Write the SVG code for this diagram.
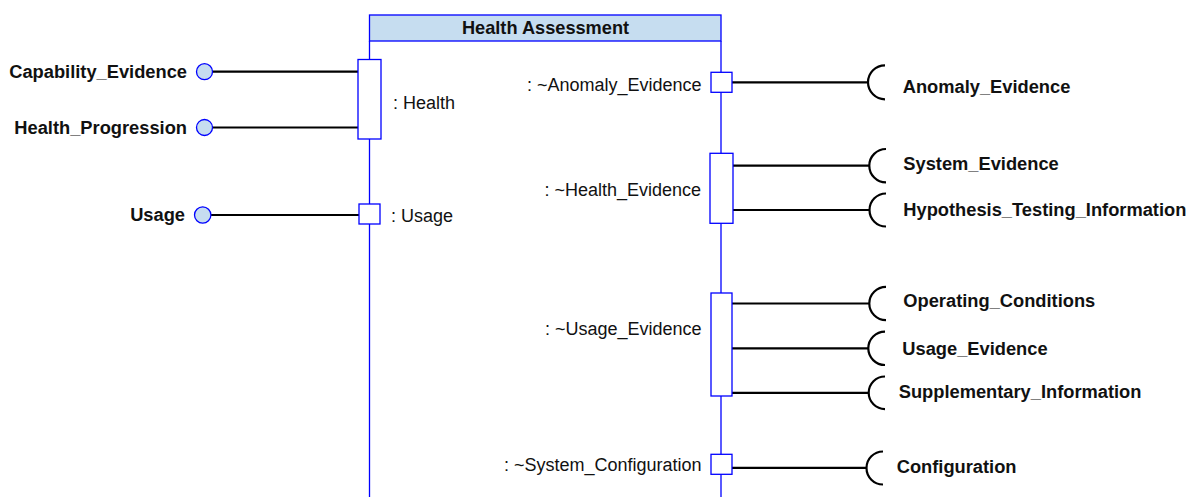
<svg xmlns="http://www.w3.org/2000/svg" width="1197" height="497" viewBox="0 0 1197 497">
  <style>
    .lifeline { stroke: #0000ff; stroke-width: 1.3; fill: none; }
    .header { fill: #c6ddf0; stroke: #0000ff; stroke-width: 1.3; }
    .port { fill: #ffffff; stroke: #0000ff; stroke-width: 1.3; }
    .provided { fill: #c6ddf0; stroke: #0000ff; stroke-width: 1.3; }
    .wire { stroke: #000000; stroke-width: 2.2; fill: none; }
    .socket { stroke: #000000; stroke-width: 2.2; fill: none; }
    .title { font-family: "Liberation Sans", Arial, sans-serif; font-size: 18.2px; font-weight: bold; fill: #111111; }
    .iface { font-family: "Liberation Sans", Arial, sans-serif; font-size: 18.3px; font-weight: bold; fill: #111111; }
    .plabel { font-family: "Liberation Sans", Arial, sans-serif; font-size: 18px; fill: #111111; }
  </style>

  <!-- Component: Health Assessment -->
  <g id="health-assessment">
    <line class="lifeline" x1="369.5" y1="41" x2="369.5" y2="497"/>
    <line class="lifeline" x1="721" y1="41" x2="721" y2="497"/>
    <rect class="header" x="369.5" y="15" width="351.5" height="26"/>
    <text class="title" x="545.5" y="34" text-anchor="middle">Health Assessment</text>
  </g>

  <!-- Connectors -->
  <g id="connectors">
    <line class="wire" x1="212" y1="71.7" x2="358" y2="71.7"/>
    <line class="wire" x1="212" y1="127.5" x2="358" y2="127.5"/>
    <line class="wire" x1="211" y1="215" x2="359" y2="215"/>

    <line class="wire" x1="732" y1="82.3" x2="867" y2="82.3"/>
    <line class="wire" x1="733" y1="165.7" x2="869" y2="165.7"/>
    <line class="wire" x1="733" y1="210" x2="869" y2="210"/>
    <line class="wire" x1="732" y1="303.5" x2="869" y2="303.5"/>
    <line class="wire" x1="732" y1="348.3" x2="868" y2="348.3"/>
    <line class="wire" x1="732" y1="392.8" x2="868" y2="392.8"/>
    <line class="wire" x1="732" y1="467.8" x2="866" y2="467.8"/>
  </g>

  <!-- Ports on the left side -->
  <g id="port-health">
    <rect class="port" x="358" y="59.5" width="23" height="79.5"/>
    <text class="plabel" x="393" y="109">: Health</text>
  </g>
  <g id="port-usage">
    <rect class="port" x="359" y="204" width="21" height="20"/>
    <text class="plabel" x="391" y="222">: Usage</text>
  </g>

  <!-- Provided interfaces -->
  <g id="if-capability-evidence">
    <circle class="provided" cx="204.5" cy="71.7" r="8"/>
    <text class="iface" x="187" y="77.5" text-anchor="end">Capability_Evidence</text>
  </g>
  <g id="if-health-progression">
    <circle class="provided" cx="204.5" cy="127.5" r="8"/>
    <text class="iface" x="187" y="134" text-anchor="end">Health_Progression</text>
  </g>
  <g id="if-usage">
    <circle class="provided" cx="202.7" cy="215" r="8.2"/>
    <text class="iface" x="185" y="221" text-anchor="end">Usage</text>
  </g>

  <!-- Ports on the right side -->
  <g id="port-anomaly-evidence">
    <rect class="port" x="711" y="72.3" width="21" height="20"/>
    <text class="plabel" x="701.5" y="90.5" text-anchor="end">: ~Anomaly_Evidence</text>
  </g>
  <g id="port-health-evidence">
    <rect class="port" x="710" y="153.3" width="23" height="70"/>
    <text class="plabel" x="701" y="196" text-anchor="end">: ~Health_Evidence</text>
  </g>
  <g id="port-usage-evidence">
    <rect class="port" x="711" y="293" width="21" height="103"/>
    <text class="plabel" x="701.5" y="335" text-anchor="end">: ~Usage_Evidence</text>
  </g>
  <g id="port-system-configuration">
    <rect class="port" x="711" y="454.3" width="21" height="20"/>
    <text class="plabel" x="701.5" y="471" text-anchor="end">: ~System_Configuration</text>
  </g>

  <!-- Required interfaces (sockets) -->
  <g id="if-anomaly-evidence">
    <path class="socket" d="M 885 65.3 A 17 17 0 0 0 885 99.3"/>
    <text class="iface" x="902.7" y="92.5">Anomaly_Evidence</text>
  </g>
  <g id="if-system-evidence">
    <path class="socket" d="M 886 149 A 16.7 16.7 0 0 0 886 182.4"/>
    <text class="iface" x="903.3" y="169.5">System_Evidence</text>
  </g>
  <g id="if-hypothesis-testing-information">
    <path class="socket" d="M 886 193.5 A 16.5 16.5 0 0 0 886 226.5"/>
    <text class="iface" x="903.3" y="215.5">Hypothesis_Testing_Information</text>
  </g>
  <g id="if-operating-conditions">
    <path class="socket" d="M 886 286.8 A 16.7 16.7 0 0 0 886 320.2"/>
    <text class="iface" x="903.3" y="307">Operating_Conditions</text>
  </g>
  <g id="if-usage-evidence">
    <path class="socket" d="M 885 331.6 A 16.7 16.7 0 0 0 885 365"/>
    <text class="iface" x="902.3" y="355">Usage_Evidence</text>
  </g>
  <g id="if-supplementary-information">
    <path class="socket" d="M 885 376.5 A 16.3 16.3 0 0 0 885 409.1"/>
    <text class="iface" x="898.7" y="398.3">Supplementary_Information</text>
  </g>
  <g id="if-configuration">
    <path class="socket" d="M 883 451.5 A 16.5 16.5 0 0 0 883 484.5"/>
    <text class="iface" x="896.7" y="473.3">Configuration</text>
  </g>
</svg>
